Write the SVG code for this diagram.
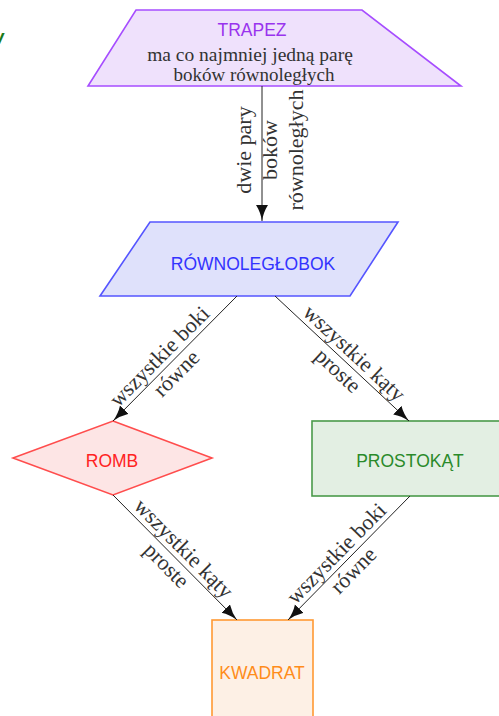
<svg xmlns="http://www.w3.org/2000/svg" width="499" height="716" viewBox="0 0 499 716">
  <defs>
    <marker id="arr" markerUnits="userSpaceOnUse" markerWidth="18" markerHeight="14" refX="16" refY="6" orient="auto">
      <path d="M0,0 Q7,4.5 16,6 Q7,7.5 0,12 Z" fill="#111"/>
    </marker>
    <style>
      .lbl { font-family: "Liberation Sans", Arial, sans-serif; font-size: 17.5px; text-anchor: middle; }
      .ser { font-family: "Liberation Serif", "Times New Roman", serif; fill: #333; text-anchor: middle; }
      .el { font-size: 22px; }
      .edge { stroke: #222; stroke-width: 1; fill: none; marker-end: url(#arr); }
      .node { stroke-width: 1.6; }
    </style>
  </defs>
  <rect width="499" height="716" fill="#fff"/>
  <text x="-12" y="44" fill="#1a7a1a" font-family="Liberation Sans, sans-serif" font-weight="bold" font-style="italic" font-size="20">w</text>

  <g id="trapez">
    <polygon class="node" points="136,10 362,10 461,86 88,86" fill="#efe1fc" stroke="#a64dff"/>
    <text class="lbl" x="252" y="36" fill="#9933ee">TRAPEZ</text>
    <text class="ser" x="250" y="61" font-size="19.5px">ma co najmniej jedną parę</text>
    <text class="ser" x="254" y="81" font-size="19px">boków równoległych</text>
  </g>

  <g id="rownoleglobok">
    <polygon class="node" points="150,222 398,222 350,296 100,296" fill="#dfe1fb" stroke="#5555ff"/>
    <text class="lbl" x="253" y="270" fill="#3333ff">RÓWNOLEGŁOBOK</text>
  </g>

  <g id="romb">
    <polygon class="node" points="113,421 212,458 113,495 13,458" fill="#fde5e5" stroke="#ff4d4d"/>
    <text class="lbl" x="112" y="467" fill="#ff2222">ROMB</text>
  </g>

  <g id="prostokat">
    <rect class="node" x="312" y="421" width="196" height="75" fill="#e3efe3" stroke="#4a9a4a"/>
    <text class="lbl" x="410" y="467" fill="#2a8a2a">PROSTOKĄT</text>
  </g>

  <g id="kwadrat">
    <rect class="node" x="212" y="620" width="101" height="110" fill="#fdf0e5" stroke="#ff9933"/>
    <text class="lbl" x="262" y="679" fill="#ff8c1a">KWADRAT</text>
  </g>

  <g id="connectors">
    <line class="edge" x1="262" y1="86" x2="262" y2="221"/>
    <line class="edge" x1="237" y1="296" x2="113" y2="421"/>
    <line class="edge" x1="275" y1="296" x2="409" y2="421"/>
    <line class="edge" x1="113" y1="495" x2="237" y2="620"/>
    <line class="edge" x1="410" y1="496" x2="288" y2="620"/>

    <g transform="translate(262,150) rotate(-90)">
      <text class="ser el" x="0" y="-11">dwie pary</text>
      <text class="ser el" x="0" y="15">boków</text>
      <text class="ser el" x="0" y="41">równoległych</text>
    </g>
    <g transform="translate(168,365) rotate(-45.2)">
      <text class="ser el" x="0" y="-5">wszystkie boki</text>
      <text class="ser el" x="0" y="19">równe</text>
    </g>
    <g transform="translate(346,362) rotate(43)">
      <text class="ser el" x="0" y="-5">wszystkie kąty</text>
      <text class="ser el" x="0" y="19">proste</text>
    </g>
    <g transform="translate(175,557) rotate(45.2)">
      <text class="ser el" x="0" y="-5">wszystkie kąty</text>
      <text class="ser el" x="0" y="19">proste</text>
    </g>
    <g transform="translate(345,562) rotate(-45.5)">
      <text class="ser el" x="0" y="-5">wszystkie boki</text>
      <text class="ser el" x="0" y="19">równe</text>
    </g>
  </g>
</svg>
